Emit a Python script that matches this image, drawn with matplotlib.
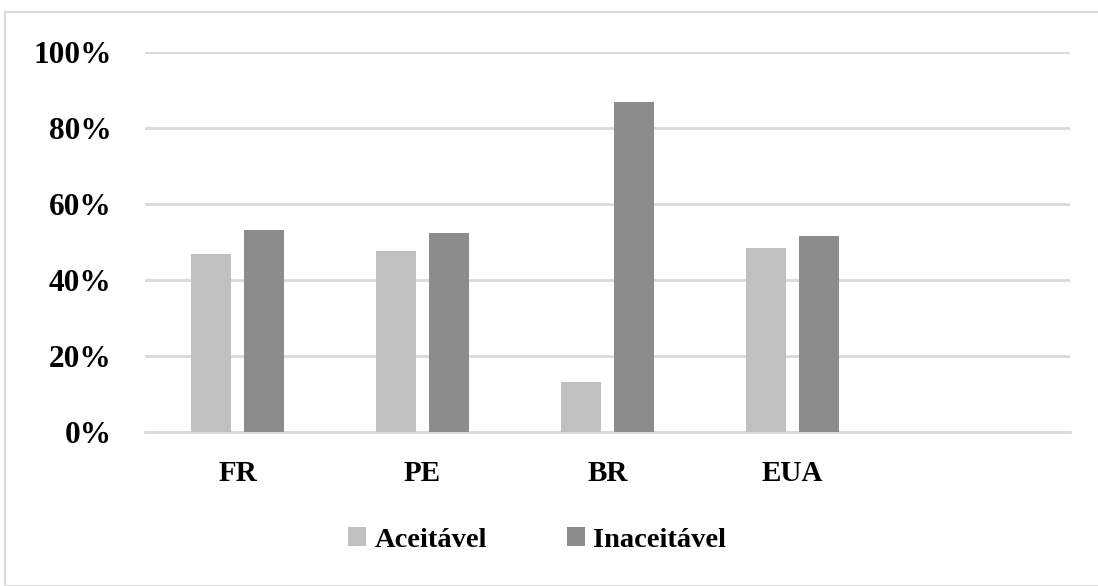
import numpy as np
import matplotlib.pyplot as plt
from matplotlib.patches import Rectangle

# data
categories = ["FR", "PE", "BR", "EUA", ""]
aceitavel = [46.8, 47.6, 13.2, 48.5]
inaceitavel = [53.2, 52.4, 86.8, 51.5]
y_ticks = [0, 20, 40, 60, 80, 100]

plt.rcParams['font.family'] = ['Liberation Serif', 'DejaVu Serif']
plt.rcParams['font.weight'] = 'bold'

fig = plt.figure(figsize=(10.98, 5.86), dpi=100)
ax = fig.add_axes([145 / 1098, 1 - 432 / 586, 925 / 1098, 380 / 586])

x = np.arange(len(aceitavel))
w = 0.22
ax.bar(x - 0.143, aceitavel, width=w, color="#c0c0c0", label="Aceitável", zorder=3)
ax.bar(x + 0.143, inaceitavel, width=w, color="#8c8c8c", label="Inaceitável", zorder=3)

ax.set_xlim(-0.5, 4.5)
ax.set_ylim(0, 100)
ax.set_yticks(y_ticks)
ax.set_yticklabels([f"{t}%" for t in y_ticks], fontsize=22.5, fontweight='bold')
ax.set_xticks(range(len(categories)))
ax.set_xticklabels(categories, fontsize=21, fontweight='bold')
ax.tick_params(axis='y', length=0, pad=24)
ax.tick_params(axis='x', length=0, pad=20)

ax.grid(axis='y', color="#d9d9d9", linewidth=2, zorder=0)
for s in ["top", "right", "left"]:
    ax.spines[s].set_visible(False)
ax.spines["bottom"].set_color("#d9d9d9")
ax.spines["bottom"].set_linewidth(2)

leg = fig.legend(loc="center", bbox_to_anchor=(537 / 1098, 1 - 540 / 586), ncol=2,
                 frameon=False, handlelength=0.63, handleheight=0.63,
                 handletextpad=0.28, columnspacing=2.8,
                 prop={'weight': 'bold', 'size': 20.5})

# thin outer frame like the exported chart box
fig.patches.append(Rectangle((5 / 1098, 0), 1, 1 - 12 / 586, transform=fig.transFigure,
                             fill=False, edgecolor="#d9d9d9", linewidth=1.5))

fig.savefig("out.png", dpi=100)
